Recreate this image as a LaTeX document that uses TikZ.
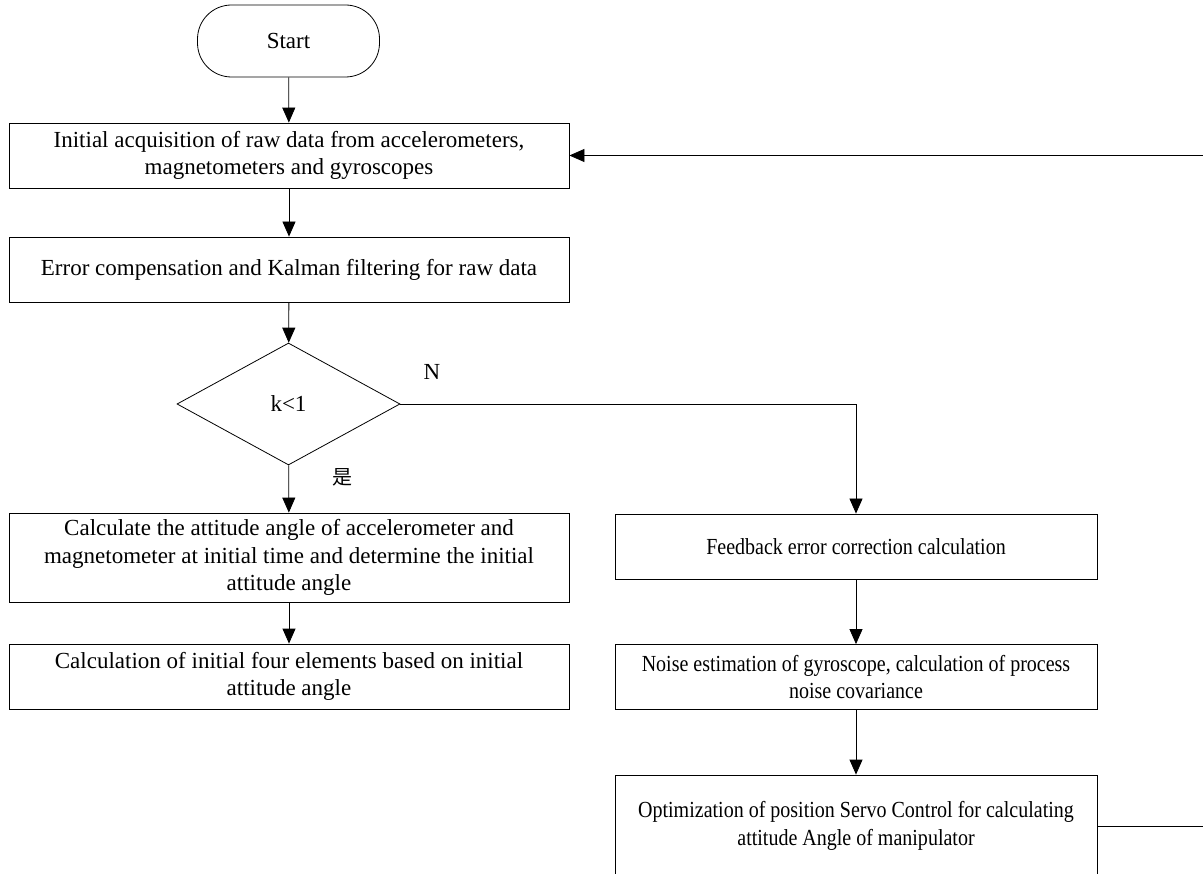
\documentclass[tikz,border=0pt]{standalone}
\usepackage{fontspec}
\setmainfont{Liberation Serif}
\newfontfamily\narrowfont[FakeStretch=0.87]{Liberation Serif}
\newfontfamily\cjkfont{Noto Sans CJK SC}
\usetikzlibrary{shapes.geometric,arrows.meta}
\begin{document}
\begin{tikzpicture}[x=1pt,y=-1pt,
  txt/.style={font=\fontsize{23}{27.5}\selectfont},
  ntxt/.style={font=\narrowfont\fontsize{23}{27.5}\selectfont},
  box/.style={draw, line width=0.8pt, minimum width=560pt, align=center, txt, inner sep=0pt},
  rbox/.style={draw, line width=0.8pt, minimum width=482pt, align=center, ntxt, inner sep=0pt},
  arr/.style={-{Triangle[length=15pt,width=13pt]}, line width=0.8pt}]
\useasboundingbox (0,0) rectangle (1203,874);
\clip (0,0) rectangle (1203,874);
\node[draw, line width=0.8pt, rounded corners=34pt, minimum width=182pt, minimum height=72pt, txt] (start) at (288.5,41) {Start};
\node[box, minimum height=65pt] (b1) at (289,155.5) {Initial acquisition of raw data from accelerometers,\\ magnetometers and gyroscopes};
\node[box, minimum height=65pt] (b2) at (289,269.5) {Error compensation and Kalman filtering for raw data};
\node[diamond, draw, line width=0.8pt, minimum width=223pt, minimum height=122pt, inner sep=0pt, txt] (d) at (288.5,404) {k<1};
\node[box, minimum height=89pt] (b3) at (289,557.5) {Calculate the attitude angle of accelerometer and\\ magnetometer at initial time and determine the initial\\ attitude angle};
\node[box, minimum height=65pt] (b4) at (289,676.5) {Calculation of initial four elements based on initial\\ attitude angle};
\node[rbox, minimum height=65pt] (b5) at (856,546.5) {Feedback error correction calculation};
\node[rbox, minimum height=65pt] (b6) at (856,677) {Noise estimation of gyroscope, calculation of process\\ noise covariance};
\node[rbox, minimum height=102pt] (b7) at (856,826) {Optimization of position Servo Control for calculating\\ attitude Angle of manipulator};
\node[txt] (nl) at (432,372) {N};
\node[font=\cjkfont\fontsize{20}{22}\selectfont] (yl) at (342,477) {是};
\coordinate (fr) at (1240,155.5);
\draw[arr] (start) -- (b1);
\draw[arr] (b1) -- (b2);
\draw[arr] (b2) -- (d);
\draw[arr] (d) -- (b3);
\draw[arr] (b3) -- (b4);
\draw[arr] (d.east) -| (b5.north);
\draw[arr] (b5) -- (b6);
\draw[arr] (b6) -- (b7);
\draw[arr] (b7.east) -- (b7.east -| fr) -- (fr) -- (b1.east |- fr);
\end{tikzpicture}
\end{document}
